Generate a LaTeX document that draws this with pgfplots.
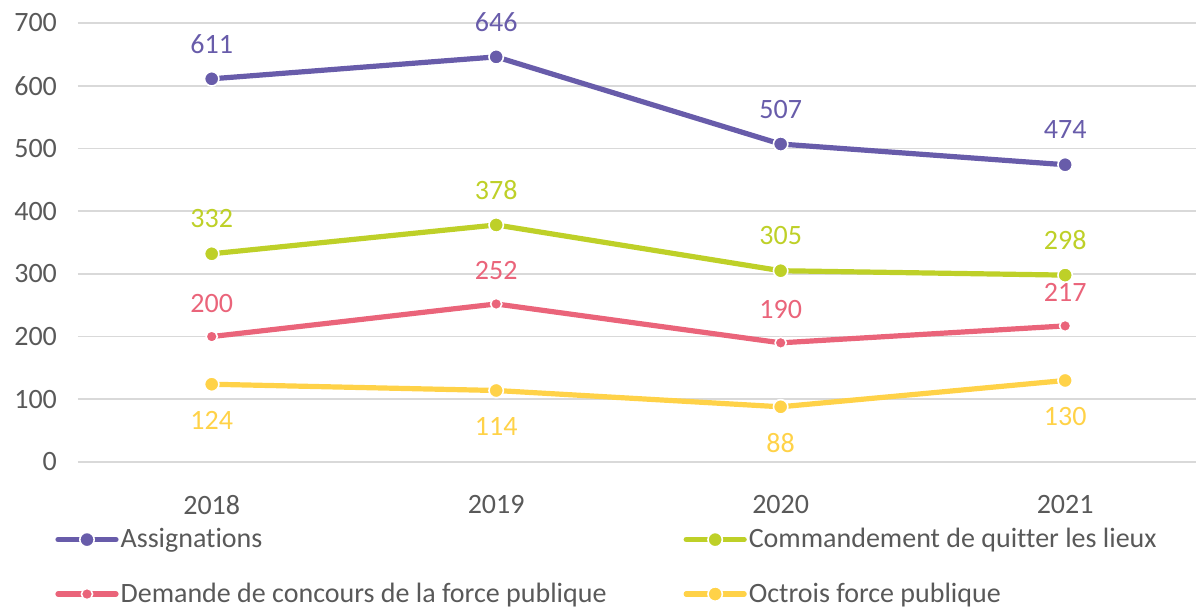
\documentclass[border=0pt]{standalone}
\usepackage{fontspec}
\setmainfont{Carlito}[Ligatures=NoCommon]
\usepackage{pgfplots}
\pgfplotsset{compat=1.18}

\definecolor{cPurple}{RGB}{104,92,170}
\definecolor{cGreen}{RGB}{190,208,40}
\definecolor{cRed}{RGB}{234,100,122}
\definecolor{cYellow}{RGB}{255,210,72}
\definecolor{txtgray}{RGB}{89,89,89}
\definecolor{gridgray}{RGB}{217,217,217}

\begin{document}
\begin{tikzpicture}
\begin{axis}[
    scale only axis,
    width=559pt,
    height=219.5pt,
    xmin=-0.47, xmax=3.46,
    ymin=0, ymax=700,
    xtick={0,1,2,3},
    xticklabels={2018,2019,2020,2021},
    ytick={0,100,...,700},
    ymajorgrids,
    grid style={gridgray, line width=0.8pt},
    axis line style={draw=none},
    major tick length=0pt,
    font=\fontsize{14}{16}\selectfont,
    tick label style={text=txtgray},
    /pgf/number format/assume math mode=true,
    yticklabel style={xshift=-7pt},
    xticklabel style={yshift=-13pt},
    every axis plot/.append style={line width=2.6pt, line cap=round, line join=round},
    nodes near coords,
    nodes near coords style={anchor=center, font=\fontsize{14}{16}\selectfont},
    legend columns=2,
    legend cell align=left,
    legend style={
        at={(axis description cs:0,0)}, anchor=north west,
        xshift=-11.5pt, yshift=-33pt,
        draw=none, fill=none, inner sep=0pt,
        text=txtgray, font=\fontsize{14}{16}\selectfont,
        row sep=16pt,
        nodes={inner xsep=1pt, inner ysep=0pt},
        /tikz/every even column/.append style={column sep=37.5pt},
    },
    legend image code/.code={
        \draw[#1, mark repeat=2, mark phase=2] plot coordinates {(0pt,0pt)(14.5pt,0pt)(29pt,0pt)};
    },
]
\addplot[cPurple, mark=*, mark size=3.6pt, mark options={draw=white, line width=0.8pt, fill=cPurple},
    nodes near coords style={text=cPurple, yshift=17.5pt}]
    coordinates {(0,611) (1,646) (2,507) (3,474)};
\addlegendentry{Assignations}
\addplot[cGreen, mark=*, mark size=3.6pt, mark options={draw=white, line width=0.8pt, fill=cGreen},
    nodes near coords style={text=cGreen, yshift=17.5pt}]
    coordinates {(0,332) (1,378) (2,305) (3,298)};
\addlegendentry{Commandement de quitter les lieux}
\addplot[cRed, mark=*, mark size=2.8pt, mark options={draw=white, line width=0.8pt, fill=cRed},
    nodes near coords style={text=cRed, yshift=16.5pt}]
    coordinates {(0,200) (1,252) (2,190) (3,217)};
\addlegendentry{Demande de concours de la force publique}
\addplot[cYellow, mark=*, mark size=3.6pt, mark options={draw=white, line width=0.8pt, fill=cYellow},
    nodes near coords style={text=cYellow, yshift=-18pt}]
    coordinates {(0,124) (1,114) (2,88) (3,130)};
\addlegendentry{Octrois force publique}
\end{axis}
\pgfresetboundingbox
\path (-39pt,-74pt) rectangle (559pt,231pt);
\end{tikzpicture}
\end{document}
